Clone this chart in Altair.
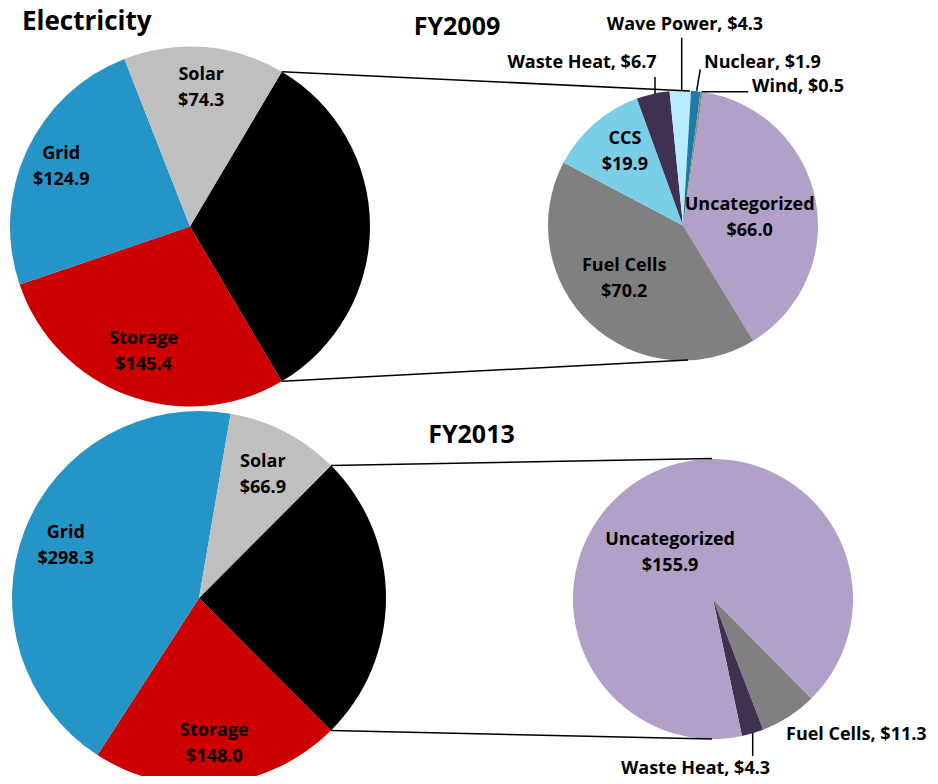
import math
import altair as alt
import pandas as pd

# ---------------- data ----------------
MAIN_NAMES = ["Other", "Storage", "Grid", "Solar"]          # clockwise from the split slice
MAIN_VALUES_09 = [145.4, 124.9, 74.3]                       # Storage, Grid, Solar
MAIN_VALUES_13 = [148.0, 298.3, 66.9]

SUB_NAMES_09 = ["Uncategorized", "Fuel Cells", "CCS", "Waste Heat", "Wave Power", "Nuclear", "Wind"]
SUB_VALUES_09 = [66.0, 70.2, 19.9, 6.7, 4.3, 1.9, 0.5]

SUB_NAMES_13 = ["Fuel Cells", "Waste Heat", "Uncategorized"]
SUB_VALUES_13 = [11.3, 4.3, 155.9]

TITLE = "Electricity"
YEARS = ["FY2009", "FY2013"]

# ---------------- style ----------------
COLOR_DOMAIN = ["Other", "Storage", "Grid", "Solar", "Uncategorized", "Fuel Cells",
                "CCS", "Waste Heat", "Wave Power", "Nuclear", "Wind"]
COLOR_RANGE = ["#000000", "#CC0000", "#2594C6", "#BFBFBF", "#B1A0C7", "#808080",
               "#7ACEE8", "#403151", "#B7EAFA", "#1D7AAA", "#8C8C8C"]
FONT = "Open Sans"
OFF = 8  # page margin: reference pixel -> view pixel
W, H = 922, 768
LH = 26   # line height of two-line slice labels

dummy = pd.DataFrame({"k": [0]})
color_scale = alt.Scale(domain=COLOR_DOMAIN, range=COLOR_RANGE)


def pie(names, values, cx, cy, R, start_deg, labels):
    df = pd.DataFrame({"name": names, "value": values, "idx": list(range(len(names)))})
    df["label"] = [f"{n}\n${v:.1f}" for n, v in zip(names, values)]
    a = math.radians(start_deg)
    theta = alt.Theta("value:Q", stack=True,
                      scale=alt.Scale(range=[a, a + 2 * math.pi]))
    base = alt.Chart(df).encode(theta=theta, order=alt.Order("idx:Q"),
                                x=alt.value(cx - OFF), y=alt.value(cy - OFF))
    layers = [base.mark_arc(radius=R).encode(
        color=alt.Color("name:N", scale=color_scale, legend=None))]
    for name, (r, dx, dy) in labels.items():
        layers.append(
            base.transform_calculate(txt=f"datum.name === '{name}' ? datum.label : ''")
            .mark_text(radius=r, dx=dx, dy=dy - LH / 2, font=FONT, fontWeight="bold",
                       fontSize=18, lineBreak="\n", lineHeight=LH, color="black",
                       align="center", baseline="middle")
            .encode(text="txt:N"))
    return alt.layer(*layers)


def rule(x1, y1, x2, y2, w=1.5):
    return alt.Chart(dummy).mark_rule(color="black", strokeWidth=w).encode(
        x=alt.value(x1 - OFF), y=alt.value(y1 - OFF),
        x2=alt.value(x2 - OFF), y2=alt.value(y2 - OFF))


def note(txt, x, y, align="center", size=18, baseline="middle"):
    return alt.Chart(pd.DataFrame({"t": [txt]})).mark_text(
        font=FONT, fontWeight="bold", fontSize=size, align=align, baseline=baseline,
        color="black").encode(x=alt.value(x - OFF), y=alt.value(y - OFF), text="t:N")


def split_start(other, main_vals):
    total = other + sum(main_vals)
    span = other / total * 360
    return 90 - span / 2, span


def edge_point(cx, cy, R, deg):
    r = math.radians(deg)
    return cx + R * math.sin(r), cy - R * math.cos(r)


layers = []

# ---------- FY2009 ----------
other09 = sum(SUB_VALUES_09)
s09, span09 = split_start(other09, MAIN_VALUES_09)
c1 = (190, 226.5, 180)
layers.append(pie(MAIN_NAMES, [other09] + MAIN_VALUES_09, c1[0], c1[1], c1[2], s09,
                  {"Solar": (139, 0, 0), "Grid": (142, 0, 0), "Storage": (134, 0, 0)}))
c2 = (683, 225.5, 135)
layers.append(pie(SUB_NAMES_09, SUB_VALUES_09, c2[0], c2[1], c2[2], 8.5,
                  {"Uncategorized": (68, 0, 6), "Fuel Cells": (80, -4, -5), "CCS": (93, 3, -3)}))
p_top = edge_point(c1[0], c1[1], c1[2], s09)
p_bot = edge_point(c1[0], c1[1], c1[2], s09 + span09)
layers.append(rule(p_top[0], p_top[1], 690, 91))
layers.append(rule(p_bot[0], p_bot[1], 688, 360))

v09 = dict(zip(SUB_NAMES_09, SUB_VALUES_09))
layers += [
    note(f"Waste Heat, ${v09['Waste Heat']:.1f}", 582, 63),
    note(f"Wave Power, ${v09['Wave Power']:.1f}", 685, 25),
    note(f"Nuclear, ${v09['Nuclear']:.1f}", 704, 63, align="left"),
    note(f"Wind, ${v09['Wind']:.1f}", 752, 87, align="left"),
    rule(655, 77, 655, 94),
    rule(681.7, 37.7, 681.7, 90.7),
    rule(700.3, 69.3, 696.7, 90.7),
    rule(701.7, 91.7, 748.3, 91.7),
]

# ---------- FY2013 ----------
other13 = sum(SUB_VALUES_13)
s13, span13 = split_start(other13, MAIN_VALUES_13)
c3 = (199, 598, 187)
layers.append(pie(MAIN_NAMES, [other13] + MAIN_VALUES_13, c3[0], c3[1], c3[2], s13,
                  {"Solar": (139, 0, 0), "Grid": (143, 0, 0), "Storage": (147, 0, 0)}))
c4 = (713, 599, 140)
layers.append(pie(SUB_NAMES_13, SUB_VALUES_13, c4[0], c4[1], c4[2], 135.3,
                  {"Uncategorized": (61, -14, 8)}))
q_top = edge_point(c3[0], c3[1], c3[2], s13)
q_bot = edge_point(c3[0], c3[1], c3[2], s13 + span13)
layers.append(rule(q_top[0], q_top[1], 712, 458.5))
layers.append(rule(q_bot[0], q_bot[1], 712, 739))

v13 = dict(zip(SUB_NAMES_13, SUB_VALUES_13))
layers += [
    note(f"Fuel Cells, ${v13['Fuel Cells']:.1f}", 786, 735, align="left"),
    note(f"Waste Heat, ${v13['Waste Heat']:.1f}", 695.5, 773.5, baseline="alphabetic"),
    rule(752.7, 733, 752.7, 756),
]

# ---------- titles ----------
layers += [
    note(TITLE, 22, 29.5, align="left", size=26, baseline="alphabetic"),
    note(YEARS[0], 457, 35, size=25, baseline="alphabetic"),
    note(YEARS[1], 471.5, 442.7, size=25, baseline="alphabetic"),
]

chart = (
    alt.layer(*layers)
    .resolve_scale(theta="independent")
    .properties(width=W, height=H, padding=0, autosize="none")
    .configure_view(stroke=None)
)

chart.save("out.html", embed_options={"renderer": "svg", "actions": False})
